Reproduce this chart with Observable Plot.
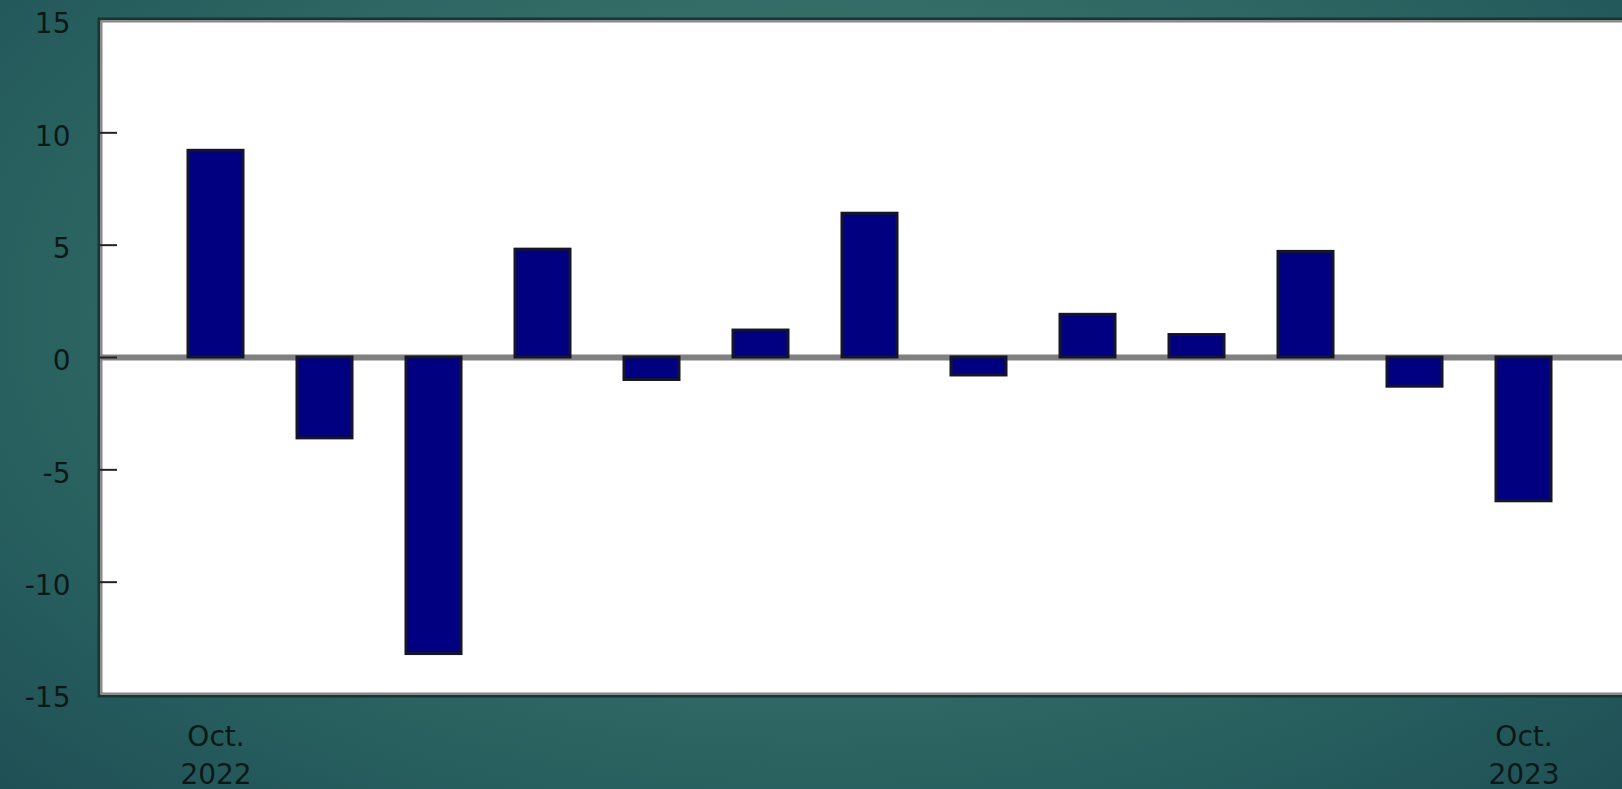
<!DOCTYPE html>
<html>
<head>
<meta charset="utf-8">
<script src="https://cdn.jsdelivr.net/npm/d3@7"></script>
<script src="https://cdn.jsdelivr.net/npm/@observablehq/plot@0.6"></script>
<style>
  html, body { margin: 0; padding: 0; width: 1622px; height: 789px; overflow: hidden; }
  body { background: radial-gradient(ellipse 70% 85% at 50% 40%, #40796f 0%, #367068 40%, #28605f 72%, #1f5055 100%); }
  #chart svg { display: block; }
</style>
</head>
<body>
<div id="chart"></div>
<script>
const months = ["2022-10","2022-11","2022-12","2023-01","2023-02","2023-03","2023-04","2023-05","2023-06","2023-07","2023-08","2023-09","2023-10"];
const values = [9.2, -3.6, -13.2, 4.8, -1.0, 1.2, 6.4, -0.8, 1.9, 1.0, 4.7, -1.3, -6.4];
const yTicks = [-15, -10, -5, 0, 5, 10, 15];
const xTickMonths = ["2022-10", "2023-10"];
const xTickLabels = ["Oct.\n2022", "Oct.\n2023"];

const data = months.map((m, i) => ({month: m, value: values[i]}));

const W = 1622, H = 789, mL = 100, mT = 20, mB = 95;
const textColor = "#0c1818";

const chart = Plot.plot({
  width: W,
  height: H,
  marginLeft: mL,
  marginRight: 0,
  marginTop: mT,
  marginBottom: mB,
  style: {background: "transparent", fontFamily: "DejaVu Sans", overflow: "visible"},
  x: {type: "band", domain: months, range: [154.8, 1583], paddingInner: 0.5, paddingOuter: 0.25, axis: null},
  y: {domain: [-15, 15], axis: null},
  marks: [
    Plot.frame({fill: "white", stroke: "#1a3333", strokeWidth: 3, inset: -1.5, insetRight: -20}),
    Plot.frame({stroke: "#888888", strokeWidth: 2, inset: 1, insetRight: -20}),
    Plot.ruleY([0], {stroke: "#808080", strokeWidth: 6}),
    Plot.barY(data, {x: "month", y: "value", fill: "#000080", stroke: "#14142a", strokeWidth: 3}),
    Plot.ruleY(yTicks.filter(d => d > -15 && d < 15), {y: d => d, stroke: "#222222", strokeWidth: 2, insetRight: W - mL - 17}),
    Plot.axisY({ticks: yTicks, tickSize: 0, tickPadding: 30, fontSize: 28, fill: textColor, dy: 4, label: null,
      tickFormat: d => (d < 0 ? "-" : "") + Math.abs(d)}),
    Plot.axisX({ticks: xTickMonths, tickSize: 0, tickPadding: 25, fontSize: 28, fill: textColor, lineHeight: 1.34, label: null,
      tickFormat: d => xTickLabels[xTickMonths.indexOf(d)]})
  ]
});
document.getElementById("chart").appendChild(chart);
</script>
</body>
</html>
